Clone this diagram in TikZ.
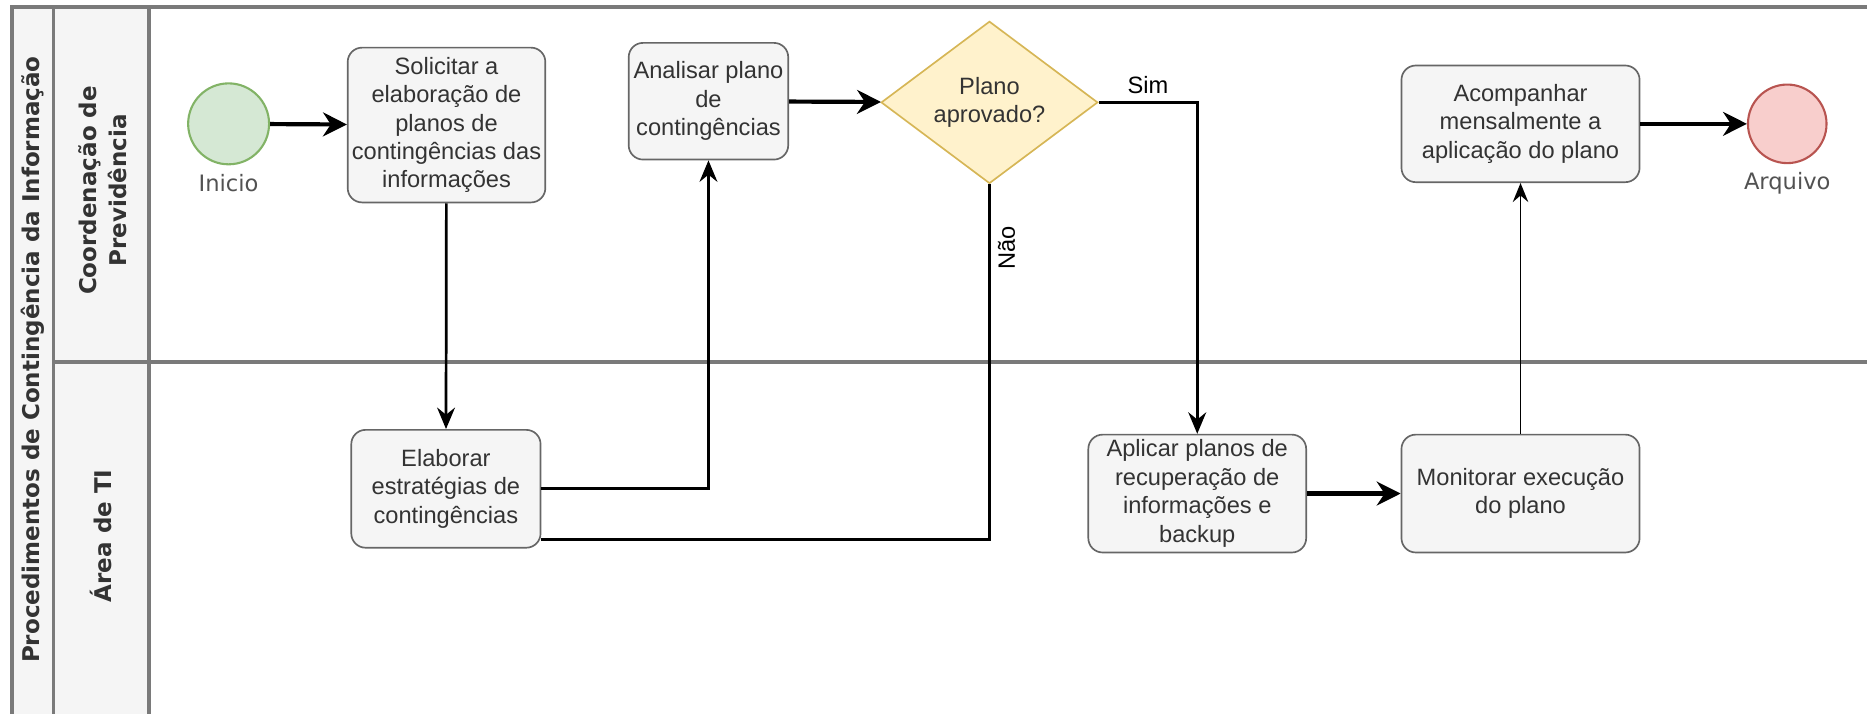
\documentclass[tikz,border=0pt]{standalone}
\usepackage{fontspec}
\setmainfont{Liberation Sans}
\newfontfamily\lanefont{DejaVu Sans}
\usetikzlibrary{arrows.meta,shapes.geometric}
\definecolor{boxfill}{HTML}{F5F5F5}
\definecolor{boxline}{HTML}{666666}
\definecolor{txtgray}{HTML}{333333}
\definecolor{startfill}{HTML}{D5E8D4}
\definecolor{startline}{HTML}{82B366}
\definecolor{endfill}{HTML}{F8CECC}
\definecolor{endline}{HTML}{B85450}
\definecolor{decfill}{HTML}{FFF2CC}
\definecolor{decline}{HTML}{D6B656}
\definecolor{laneline}{HTML}{7A7A7A}
\tikzset{
  task/.style={draw=boxline, fill=boxfill, rounded corners=0.24cm, align=center,
    text=txtgray, inner sep=0pt, line width=0.8pt},
  decision/.style={diamond, draw=decline, fill=decfill, align=center, text=txtgray,
    inner sep=0pt, line width=0.8pt, minimum width=3.64cm, minimum height=2.64cm},
  event/.style={circle, inner sep=0pt, line width=1pt},
  evlabel/.style={font=\lanefont\fontsize{10.8pt}{13pt}\selectfont, text=txtgray!85},
  lanelabel/.style={font=\lanefont\bfseries\fontsize{11pt}{14.5pt}\selectfont,
    rotate=90, align=center, text=txtgray},
  flow/.style={-{Stealth[length=0.36cm,width=0.3cm,inset=0.12cm]}, line width=1.3pt},
  bigflow/.style={-{Stealth[length=0.4cm,width=0.4cm,inset=0.13cm]}, line width=2pt},
  thinflow/.style={-{Stealth[length=0.32cm,width=0.26cm,inset=0.11cm]}, line width=0.8pt},
  laneborder/.style={draw=laneline, line width=1.6pt}
}
\begin{document}
\begin{tikzpicture}[x=0.02cm, y=-0.02cm, font=\fontsize{11.3pt}{13.6pt}\selectfont]
  \useasboundingbox (0,0) rectangle (1568,600);

  % Pool and lanes
  \fill [boxfill] (10,6) rectangle (125,600);
  \draw [laneborder] (1568,6) -- (10,6) -- (10,600);
  \draw [laneborder] (45,6) -- (45,600);
  \draw [laneborder] (125,6) -- (125,600);
  \draw [laneborder] (45,304) -- (1568,304);
  \node [lanelabel] (pool) at (27.5,302) {Procedimentos de Contingência da Informação};
  \node [lanelabel] (coord) at (86,160) {Coordenação de\\Previdência};
  \node [lanelabel] (ti) at (85,450) {Área de TI};

  % Events
  \node [event, draw=startline, fill=startfill, minimum size=1.36cm] (ini) at (192,104) {};
  \node [evlabel, below=0.02cm] (inilbl) at (ini.south) {Inicio};
  \node [event, draw=endline, fill=endfill, minimum size=1.32cm] (arq) at (1501,104) {};
  \node [evlabel, below=0.02cm] (arqlbl) at (arq.south) {Arquivo};

  % Tasks
  \node [task, minimum width=3.32cm, minimum height=2.6cm] (sol) at (375,105)
    {Solicitar a\\elaboração de\\planos de\\contingências das\\informações};
  \node [task, minimum width=3.18cm, minimum height=1.98cm] (ela) at (374.5,410.5)
    {Elaborar\\estratégias de\\contingências};
  \node [task, minimum width=2.68cm, minimum height=1.96cm] (ana) at (595,85)
    {Analisar plano\\de\\contingências};
  \node [decision] (dec) at (831,86) {Plano\\aprovado?};
  \node [task, minimum width=3.66cm, minimum height=1.98cm] (apl) at (1005.5,414.5)
    {Aplicar planos de\\recuperação de\\informações e\\backup};
  \node [task, minimum width=4cm, minimum height=1.98cm] (mon) at (1277,414.5)
    {Monitorar execução\\do plano};
  \node [task, minimum width=4cm, minimum height=1.96cm] (aco) at (1277,104)
    {Acompanhar\\mensalmente a\\aplicação do plano};

  % Connectors
  \draw [bigflow] (ini) -- (sol);
  \draw [flow] (sol) -- (ela);
  \draw [flow] (ela.east) -| (ana.south);
  \draw [bigflow] (ana) -- (dec);
  \draw [flow] (dec.east) -| node [pos=0.25, above, text=black] {Sim} (apl.north);
  \draw [line width=1.3pt] (dec.south) |- node [pos=0.09, rotate=90, anchor=north, text=black] {Não} ([yshift=-0.85cm]ela.east);
  \draw [bigflow] (apl) -- (mon);
  \draw [thinflow] (mon) -- (aco);
  \draw [bigflow] (aco) -- (arq);
\end{tikzpicture}
\end{document}
